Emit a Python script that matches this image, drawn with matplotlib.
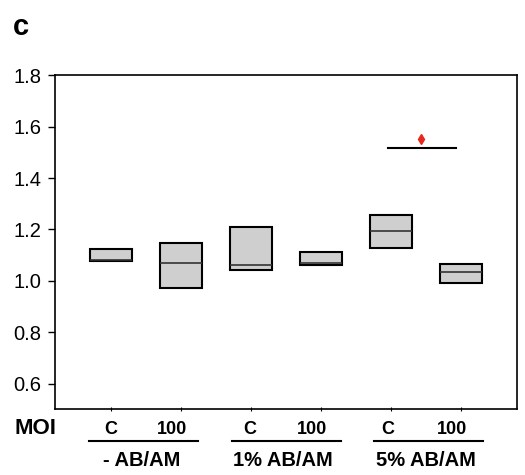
import matplotlib.pyplot as plt

# Data (quartiles and medians, no whiskers)
groups = ["- AB/AM", "1% AB/AM", "5% AB/AM"]
moi_labels = ["C", "100", "C", "100", "C", "100"]
q1 = [1.078, 0.974, 1.042, 1.062, 1.129, 0.993]
med = [1.082, 1.070, 1.062, 1.069, 1.195, 1.036]
q3 = [1.125, 1.149, 1.210, 1.114, 1.256, 1.067]
positions = [1, 2, 3, 4, 5, 6]

# significance bar over 5% AB/AM
sig_x = [4.96, 5.93]
sig_y = 1.516
star_x, star_y = 5.43, 1.551

plt.rcParams['font.family'] = ['Liberation Sans', 'DejaVu Sans']

fig = plt.figure(figsize=(5.25, 4.75), dpi=100)
ax = fig.add_axes([0.1053, 0.1383, 0.8795, 0.7032])

stats = []
for a, m, b in zip(q1, med, q3):
    stats.append({'q1': a, 'med': m, 'q3': b, 'whislo': a, 'whishi': b, 'fliers': []})

ax.bxp(stats, positions=positions, widths=0.6, patch_artist=True, showcaps=False,
       boxprops=dict(facecolor='#cfcfcf', edgecolor='black', linewidth=1.5),
       medianprops=dict(color='#333333', linewidth=1.2),
       whiskerprops=dict(linewidth=0))

ax.plot(sig_x, [sig_y, sig_y], color='black', lw=1.5)
ax.plot(star_x, star_y, marker='d', color='#e8271c', markersize=5)

ax.set_xlim(0.2, 6.8)
ax.set_ylim(0.5, 1.8)
ax.set_yticks([0.6, 0.8, 1.0, 1.2, 1.4, 1.6, 1.8])
ax.set_yticklabels(['0.6', '0.8', '1.0', '1.2', '1.4', '1.6', '1.8'], fontsize=14.5)
ax.tick_params(axis='y', length=5, width=1, pad=5)
ax.set_xticks(positions)
ax.set_xticklabels([])
ax.tick_params(axis='x', direction='inout', length=3, width=0.8)
for s in ax.spines.values():
    s.set_linewidth(1.2)

# labels below the axis
fig.text(15 / 525, 1 - 429 / 475, "MOI", fontsize=16, fontweight='bold',
         ha='left', va='center')
moi_x = [111, 172, 250, 312, 388, 452]
for x, lab in zip(moi_x, moi_labels):
    fig.text(x / 525, 1 - 430 / 475, lab, fontsize=13, fontweight='bold', ha='center', va='center')

lines = [(89, 198), (232, 341), (374, 483)]
group_x = [142, 283, 426]
for (x0, x1), gx, g in zip(lines, group_x, groups):
    fig.add_artist(plt.Line2D([x0 / 525, x1 / 525], [1 - 441 / 475] * 2, color='black', lw=1.5))
    fig.text(gx / 525, 1 - 460 / 475, g, fontsize=14.5, fontweight='bold', ha='center', va='center')

fig.text(21 / 525, 1 - 27 / 475, "c", fontsize=21, fontweight='bold', ha='center', va='center')

plt.savefig('out.png', dpi=100)
